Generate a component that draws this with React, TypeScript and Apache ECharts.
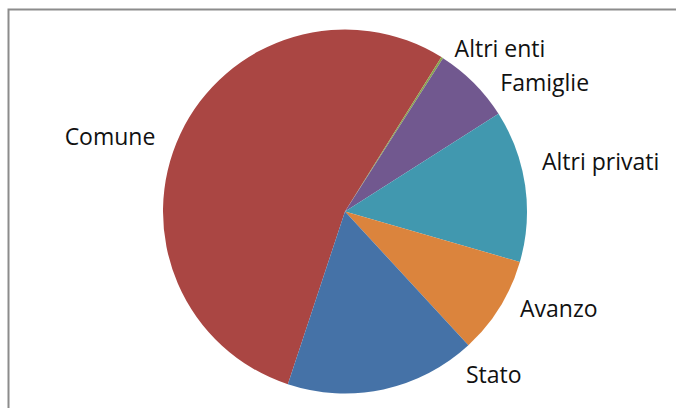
import React, { useEffect, useRef } from "react";
import * as echarts from "echarts";

const categories = ["Comune", "Altri enti", "Famiglie", "Altri privati", "Avanzo", "Stato"];
const values = [53.8, 0.17, 6.92, 13.5, 8.67, 16.94];
const colors = ["#AA4643", "#89A54E", "#71588F", "#4198AF", "#DB843D", "#4572A7"];
const labelShift: [number, number][] = [
  [-1, 7],
  [-7, 1],
  [5, 8],
  [-8, -23],
  [-3, -5],
  [67, -27],
];

export default function App() {
  const ref = useRef<HTMLDivElement>(null);
  useEffect(() => {
    document.body.style.margin = "0";
    const chart = echarts.init(ref.current!, null, { renderer: "svg" });
    chart.setOption({
      animation: false,
      backgroundColor: "#ffffff",
      graphic: [
        {
          type: "rect",
          shape: { x: 8.5, y: 9.5, width: 1000, height: 1000 },
          style: { fill: "none", stroke: "#8c8c8c", lineWidth: 2 },
          silent: true,
        },
      ],
      series: [
        {
          type: "pie",
          center: [345, 211.5],
          radius: 182,
          startAngle: 251.7,
          clockwise: true,
          avoidLabelOverlap: false,
          data: categories.map((c, i) => ({
            name: c,
            value: values[i],
            itemStyle: { color: colors[i] },
          })),
          label: {
            show: true,
            position: "outside",
            formatter: "{b}",
            fontFamily: "Open Sans",
            fontSize: 23,
            color: "#111111",
          },
          labelLine: { show: false, length: 12, length2: 8 },
          labelLayout: (params: any) => {
            const s = labelShift[params.dataIndex] || [0, 0];
            return { dx: s[0], dy: s[1] };
          },
          itemStyle: { borderWidth: 0 },
          emphasis: { disabled: true },
        },
      ],
    });
    return () => chart.dispose();
  }, []);
  return <div ref={ref} style={{ width: 676, height: 408 }} />;
}
